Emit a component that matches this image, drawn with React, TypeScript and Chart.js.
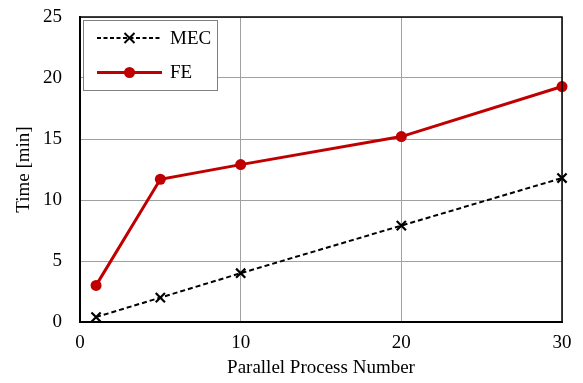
import React, { useEffect, useRef } from "react";
import { Chart, registerables } from "chart.js";

Chart.register(...registerables);

const processNumbers = [1, 5, 10, 20, 30];
const mecTimes = [0.4, 2.0, 4.0, 7.9, 11.8];
const feTimes = [3.0, 11.7, 12.9, 15.2, 19.3];
const seriesNames = ["MEC", "FE"];
const xTitle = "Parallel Process Number";
const yTitle = "Time [min]";

const FONT = "'Liberation Serif', 'Times New Roman', serif";
const RED = "#c00000";

const frameLegendPlugin = {
  id: "frameLegend",
  afterDraw(chart: any) {
    const { ctx, chartArea } = chart;
    ctx.save();
    ctx.strokeStyle = "#000";
    ctx.lineWidth = 1.5;
    ctx.beginPath();
    ctx.moveTo(chartArea.left, chartArea.top);
    ctx.lineTo(chartArea.right, chartArea.top);
    ctx.lineTo(chartArea.right, chartArea.bottom);
    ctx.stroke();

    const bx = chartArea.left + 3.5;
    const by = chartArea.top + 3.5;
    const bw = 134;
    const bh = 70;
    ctx.fillStyle = "#fff";
    ctx.fillRect(bx, by, bw, bh);
    ctx.strokeStyle = "#808080";
    ctx.lineWidth = 1;
    ctx.strokeRect(bx, by, bw, bh);

    const rows = [
      { y: by + 17.5, color: "#000", dash: [4, 2.5], width: 1.8, marker: "x" },
      { y: by + 52, color: RED, dash: [], width: 3, marker: "o" },
    ];
    rows.forEach((r, i) => {
      const x0 = 97, x1 = 162, xm = 129.5;
      ctx.strokeStyle = r.color;
      ctx.lineWidth = r.width;
      ctx.setLineDash(r.dash);
      ctx.beginPath();
      ctx.moveTo(x0, r.y);
      ctx.lineTo(x1, r.y);
      ctx.stroke();
      ctx.setLineDash([]);
      if (r.marker === "x") {
        ctx.lineWidth = 2;
        const s = 5;
        ctx.beginPath();
        ctx.moveTo(xm - s, r.y - s);
        ctx.lineTo(xm + s, r.y + s);
        ctx.moveTo(xm - s, r.y + s);
        ctx.lineTo(xm + s, r.y - s);
        ctx.stroke();
      } else {
        ctx.fillStyle = r.color;
        ctx.beginPath();
        ctx.arc(xm, r.y, 5.5, 0, Math.PI * 2);
        ctx.fill();
      }
      ctx.fillStyle = "#000";
      ctx.font = `19px ${FONT}`;
      ctx.textBaseline = "middle";
      ctx.textAlign = "left";
      ctx.fillText(seriesNames[i], 170, r.y + 1);
    });
    ctx.restore();
  },
};

export default function App() {
  const ref = useRef<HTMLCanvasElement>(null);
  useEffect(() => {
    document.body.style.margin = "0";
    const canvas = ref.current!;
    const chart = new Chart(canvas, {
      type: "line",
      data: {
        datasets: [
          {
            label: seriesNames[0],
            data: processNumbers.map((x, i) => ({ x, y: mecTimes[i] })),
            borderColor: "#000",
            backgroundColor: "#000",
            borderWidth: 2,
            borderDash: [5, 3],
            pointStyle: "crossRot",
            pointRadius: 6.5,
            pointBorderWidth: 2.2,
            pointBorderColor: "#000",
            tension: 0,
          },
          {
            label: seriesNames[1],
            data: processNumbers.map((x, i) => ({ x, y: feTimes[i] })),
            borderColor: RED,
            backgroundColor: RED,
            borderWidth: 3,
            pointStyle: "circle",
            pointRadius: 5.5,
            pointBorderWidth: 0,
            tension: 0,
          },
        ],
      },
      options: {
        animation: false,
        responsive: false,
        clip: false as any,
        layout: { autoPadding: false, padding: { top: 17, right: 21, left: 0, bottom: 0 } },
        plugins: { legend: { display: false }, tooltip: { enabled: false } },
        scales: {
          x: {
            type: "linear",
            min: 0,
            max: 30,
            ticks: { stepSize: 10, color: "#000", font: { family: FONT, size: 19 }, padding: 10, maxRotation: 0 },
            grid: { color: "#a0a0a0", lineWidth: 1, drawTicks: false },
            border: { color: "#000", width: 2 },
            title: { display: true, text: xTitle, color: "#000", font: { family: FONT, size: 19 }, padding: { top: 0, bottom: 4 } },
            afterFit: (s: any) => { s.height = 61; s.paddingLeft = 0; s.paddingRight = 0; },
          },
          y: {
            min: 0,
            max: 25,
            ticks: { stepSize: 5, color: "#000", font: { family: FONT, size: 19 }, padding: 18, },
            grid: { color: "#a0a0a0", lineWidth: 1, drawTicks: false },
            border: { color: "#000", width: 2 },
            title: { display: true, text: yTitle, color: "#000", font: { family: FONT, size: 19 }, padding: { top: 13, bottom: 0 } },
            afterFit: (s: any) => { s.width = 80; s.paddingTop = 0; s.paddingBottom = 0; },
          },
        },
      },
      plugins: [frameLegendPlugin],
    });
    return () => chart.destroy();
  }, []);
  return (
    <div style={{ width: 583, height: 383 }}>
      <canvas ref={ref} width={583} height={383} style={{ display: "block" }} />
    </div>
  );
}
